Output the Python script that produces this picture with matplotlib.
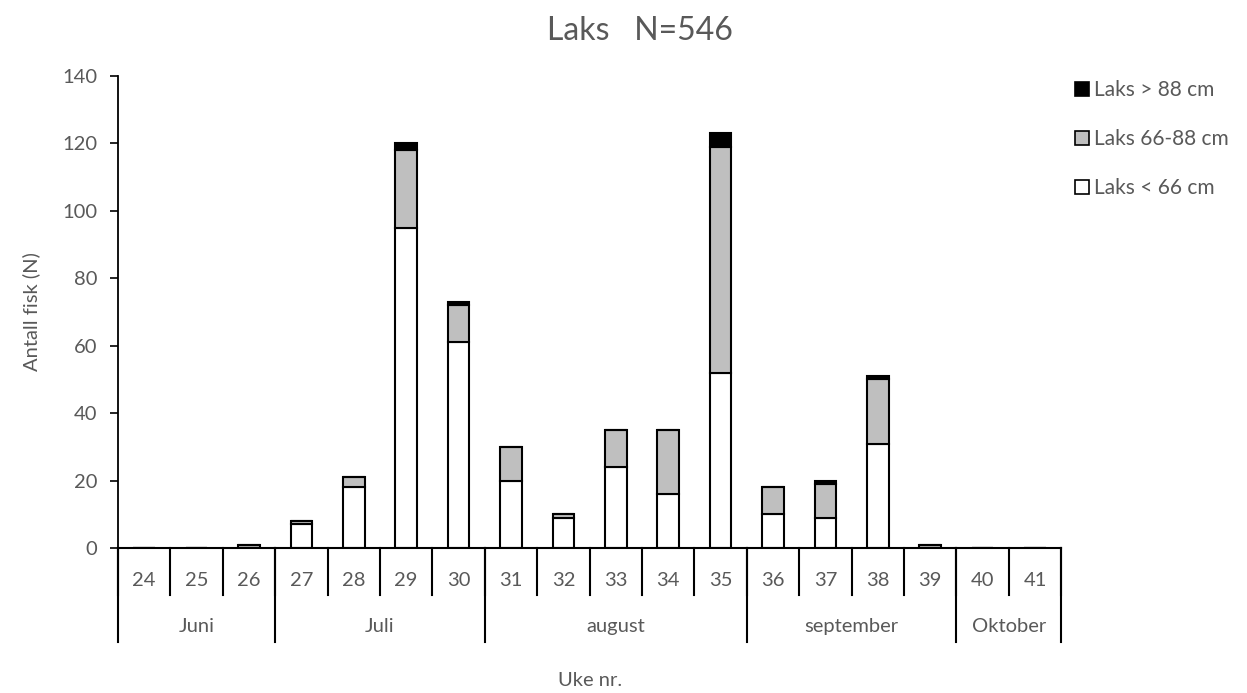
import matplotlib
matplotlib.use("Agg")
import matplotlib.pyplot as plt
import numpy as np
from matplotlib.patches import Patch

plt.rcParams['font.family'] = ['Lato', 'DejaVu Sans']

# data
weeks = [24, 25, 26, 27, 28, 29, 30, 31, 32, 33, 34, 35, 36, 37, 38, 39, 40, 41]
small = [0, 0, 0, 7, 18, 95, 61, 20, 9, 24, 16, 52, 10, 9, 31, 0, 0, 0]     # < 66 cm
medium = [0, 0, 1, 1, 3, 23, 11, 10, 1, 11, 19, 67, 8, 10, 19, 1, 0, 0]    # 66-88 cm
large = [0, 0, 0, 0, 0, 2, 1, 0, 0, 0, 0, 4, 0, 1, 1, 0, 0, 0]             # > 88 cm
months = ['Juni', 'Juli', 'august', 'september', 'Oktober']
month_sizes = [3, 4, 5, 4, 2]

txt = '#595959'
fs = 14.5
x = np.arange(len(weeks))
small = np.array(small)
medium = np.array(medium)
large = np.array(large)

fig = plt.figure(figsize=(12.47, 6.93), dpi=100)
ax = fig.add_axes([0.0946, 0.2092, 0.7564, 0.6811])

w = 0.41
ax.bar(x, small, w, color='white', edgecolor='black', linewidth=1.5, zorder=3)
ax.bar(x, medium, w, bottom=small, color='#bfbfbf', edgecolor='black', linewidth=1.5, zorder=3)
ax.bar(x, large, w, bottom=small + medium, color='black', edgecolor='black', linewidth=1.5, zorder=3)

ax.set_xlim(-0.5, len(weeks) - 0.5)
ax.set_ylim(0, 140)
ax.set_yticks(range(0, 141, 20))
ax.tick_params(axis='y', labelcolor=txt, color='black', labelsize=fs, length=6, width=1.2,
               direction='out', pad=9)
ax.set_xticks([])

for s in ['top', 'right', 'bottom']:
    ax.spines[s].set_visible(False)
ax.spines['left'].set_linewidth(1.3)
ax.axhline(0, color='black', linewidth=1.5, zorder=4, clip_on=False)

# hierarchical category axis
trans = ax.get_xaxis_transform()
for i, wk in enumerate(weeks):
    ax.text(i, -0.068, str(wk), transform=trans, ha='center', va='center', color=txt, fontsize=fs)
for b in np.arange(len(weeks) + 1) - 0.5:
    ax.plot([b, b], [0, -0.1], transform=trans, color='black', linewidth=1.5, clip_on=False)

edges = np.concatenate([[0], np.cumsum(month_sizes)]) - 0.5
for b in edges:
    ax.plot([b, b], [0, -0.199], transform=trans, color='black', linewidth=1.5, clip_on=False)
for m, a, b in zip(months, edges[:-1], edges[1:]):
    ax.text((a + b) / 2, -0.167, m, transform=trans, ha='center', va='center', color=txt, fontsize=fs)

ax.text(0.5, -0.28, 'Uke nr.', transform=ax.transAxes, ha='center', va='center', color=txt, fontsize=fs)
ax.set_ylabel('Antall fisk (N)', color=txt, fontsize=fs, labelpad=16)
fig.text(0.513, 0.955, 'Laks   N=546', ha='center', va='center', color=txt, fontsize=23)

handles = [Patch(facecolor='black', edgecolor='black', linewidth=1.2),
           Patch(facecolor='#bfbfbf', edgecolor='black', linewidth=1.2),
           Patch(facecolor='white', edgecolor='black', linewidth=1.2)]
labels = ['Laks > 88 cm', 'Laks 66-88 cm', 'Laks < 66 cm']
leg = fig.legend(handles, labels, loc='upper left', bbox_to_anchor=(0.859, 0.89),
                 frameon=False, fontsize=15, handlelength=0.65, handleheight=0.65,
                 handletextpad=0.25, labelspacing=1.38, borderpad=0.2, borderaxespad=0)
for t in leg.get_texts():
    t.set_color(txt)

fig.savefig('out.png', dpi=100)
